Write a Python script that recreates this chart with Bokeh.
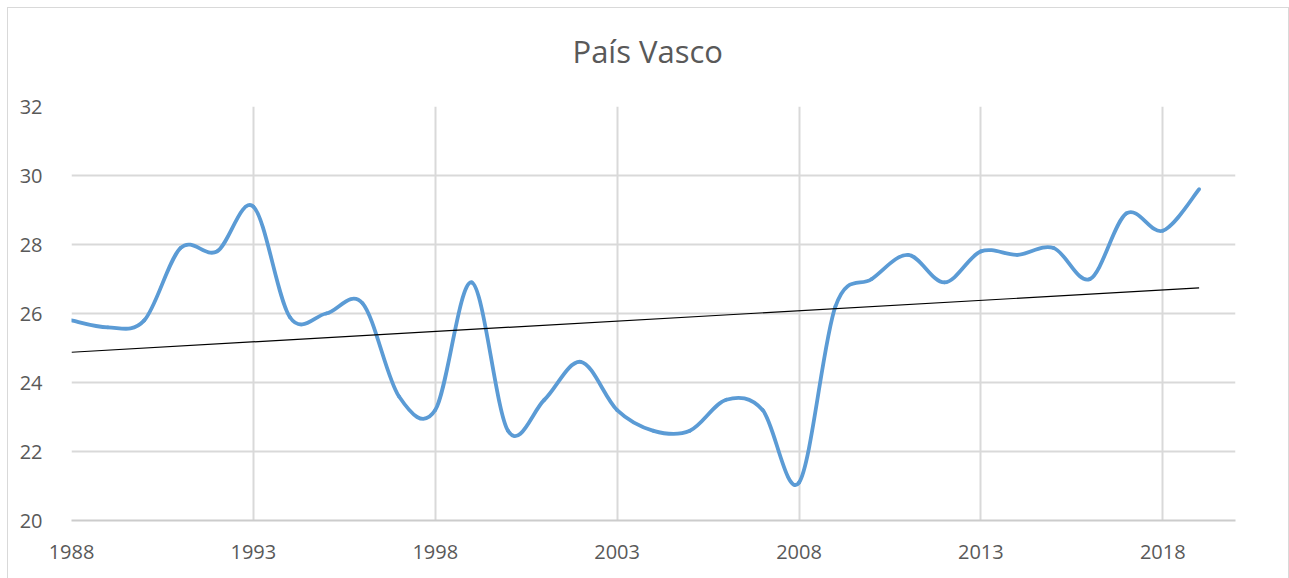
import numpy as np
from bokeh.plotting import figure
from bokeh.models import FixedTicker, Range1d, ColumnDataSource, Title
from bokeh.embed import file_html
from bokeh.resources import INLINE

# ---- data ----
years = list(range(1988, 2020))
values = [25.8, 25.6, 25.8, 27.9, 27.8, 29.1, 25.9, 26.0, 26.3, 23.6,
          23.2, 26.9, 22.6, 23.5, 24.6, 23.2, 22.6, 22.6, 23.5, 23.2,
          21.1, 26.2, 27.0, 27.7, 26.9, 27.8, 27.7, 27.9, 27.0, 28.9,
          28.4, 29.6]
x_ticks = [1988, 1993, 1998, 2003, 2008, 2013, 2018]
y_ticks = [20, 22, 24, 26, 28, 30, 32]
title_text = "País Vasco"

TEXT = "#595959"
GRID = "#d9d9d9"
BLUE = "#5B9BD5"
FONT = "Open Sans"

p = figure(width=1280, height=570, output_backend="svg", toolbar_location=None,
           x_range=Range1d(1988, 2020), y_range=Range1d(20, 32),
           frame_width=1164, frame_height=414,
           min_border_left=63, min_border_right=53, min_border_top=98, min_border_bottom=58)
p.styles = {"margin-left": "7px", "margin-top": "7px",
            "border-top": "1px solid #d9d9d9", "border-left": "1px solid #d9d9d9",
            "border-right": "1px solid #d9d9d9"}

p.title.text = title_text
p.title.align = "left"
p.title.offset = 501
p.title.vertical_align = "top"
p.title.text_font = FONT
p.title.text_font_size = "31px"
p.title.text_font_style = "normal"
p.title.text_color = TEXT
p.title.standoff = 32

# invisible spacer between the title and the plot frame
p.add_layout(Title(text=" ", text_font_size="1px", standoff=14, text_color="white"), "above")

p.outline_line_color = None
p.background_fill_color = "white"
p.border_fill_color = "white"

p.xaxis.ticker = FixedTicker(ticks=x_ticks)
p.yaxis.ticker = FixedTicker(ticks=y_ticks)
for ax in (p.xaxis, p.yaxis):
    ax.major_tick_line_color = None
    ax.minor_tick_line_color = None
    ax.major_label_text_font = FONT
    ax.major_label_text_font_size = "20px"
    ax.major_label_text_color = TEXT
p.xaxis.axis_line_color = "#cccccc"
p.xaxis.axis_line_width = 2
p.yaxis.axis_line_color = None
p.xaxis.major_label_standoff = 18
p.yaxis.major_label_standoff = 23

p.xgrid.grid_line_color = GRID
p.ygrid.grid_line_color = GRID
p.xgrid.grid_line_width = 2
p.ygrid.grid_line_width = 2
p.xgrid.ticker = FixedTicker(ticks=x_ticks)
p.ygrid.ticker = FixedTicker(ticks=y_ticks)

# smoothed line (Excel-style Bezier segments through data points)
xs = np.array(years, dtype=float)
ys = np.array(values, dtype=float)
n = len(xs)
t = 1.0 / 6.0
x0, y0, x1, y1, cx0, cy0, cx1, cy1 = [], [], [], [], [], [], [], []
for i in range(n - 1):
    pm = i - 1 if i > 0 else i
    pp = i + 2 if i + 2 < n else i + 1
    x0.append(xs[i]); y0.append(ys[i])
    x1.append(xs[i + 1]); y1.append(ys[i + 1])
    cx0.append(xs[i] + (xs[i + 1] - xs[pm]) * t)
    cy0.append(ys[i] + (ys[i + 1] - ys[pm]) * t)
    cx1.append(xs[i + 1] - (xs[pp] - xs[i]) * t)
    cy1.append(ys[i + 1] - (ys[pp] - ys[i]) * t)
src = ColumnDataSource(dict(x0=x0, y0=y0, x1=x1, y1=y1, cx0=cx0, cy0=cy0, cx1=cx1, cy1=cy1))
p.bezier(x0="x0", y0="y0", x1="x1", y1="y1", cx0="cx0", cy0="cy0", cx1="cx1", cy1="cy1",
         source=src, line_color=BLUE, line_width=3.8, line_cap="round")

# linear trendline
k, b = np.polyfit(xs, ys, 1)
tx = [xs[0], xs[-1]]
p.line(tx, [k * v + b for v in tx], line_color="black", line_width=1.2)

open("out.html", "w").write(file_html(p, INLINE))
